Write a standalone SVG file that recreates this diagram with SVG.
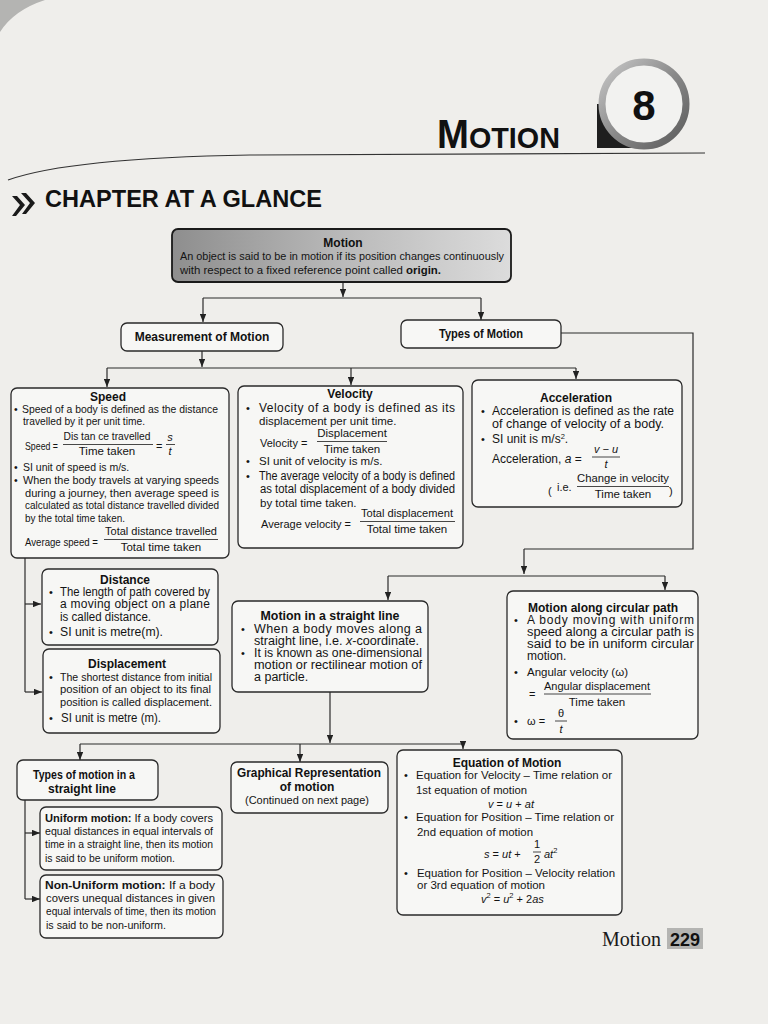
<svg xmlns="http://www.w3.org/2000/svg" width="768" height="1024" viewBox="0 0 768 1024">
<defs>
<style>
.box{fill:#f7f7f5;stroke:#2a2a2a;stroke-width:1.3}
.t{font-family:"Liberation Sans",Arial,sans-serif;font-size:11px;fill:#141414}
.h{font-family:"Liberation Sans",Arial,sans-serif;font-size:12px;font-weight:bold;fill:#111}
.c{text-anchor:middle}
.i{font-style:italic}
.s105{font-size:10.5px}
.s115{font-size:11.5px}
.s12{font-size:12px}
.s125{font-size:12.5px}
.ln{fill:none;stroke:#2a2a2a;stroke-width:1.2}
.bar{stroke:#1a1a1a;stroke-width:0.8}
</style>
<marker id="ah" viewBox="0 0 10 8" refX="10" refY="4" markerWidth="8" markerHeight="6.4" orient="auto" markerUnits="userSpaceOnUse">
<path d="M0,0 L10,4 L0,8 z" fill="#222"/>
</marker>
<linearGradient id="gm" x1="0" y1="0" x2="1" y2="0">
<stop offset="0" stop-color="#8e8e8e"/>
<stop offset="0.5" stop-color="#b9b9b9"/>
<stop offset="1" stop-color="#dcdcdc"/>
</linearGradient>
<linearGradient id="gr" x1="0" y1="0" x2="1" y2="1">
<stop offset="0" stop-color="#c8c8c8"/>
<stop offset="0.5" stop-color="#8a8a8a"/>
<stop offset="1" stop-color="#5a5a5a"/>
</linearGradient>
</defs>

<rect x="0" y="0" width="768" height="1024" fill="#efeeeb"/>
<path d="M0,0 L45,0 Q14,10 0,32 z" fill="#b4b4b2"/>

<!-- header -->
<g id="header">
<rect x="597" y="104" width="47" height="44" fill="#1e1e1e"/>
<circle cx="644" cy="104" r="42" fill="#f2f2f0" stroke="url(#gr)" stroke-width="7"/>
<text x="644" y="120" text-anchor="middle" font-family="Liberation Sans,Arial,sans-serif" font-weight="bold" font-size="42" fill="#111">8</text>
<text x="437" y="148" font-family="Liberation Sans,Arial,sans-serif" font-weight="bold" fill="#111" textLength="123" lengthAdjust="spacingAndGlyphs"><tspan font-size="40">M</tspan><tspan font-size="30">OTION</tspan></text>
<path d="M8,180 Q70,158 250,155 L705,153" fill="none" stroke="#333" stroke-width="1.2"/>
<path d="M12,196 L20,205 L12,216 L16,216 L25,205 L17,196 z M21,193 L30,203 L22,214 L26,214 L35,203 L26,193 z" fill="#1a1a1a"/>
<text x="45" y="207" font-family="Liberation Sans,Arial,sans-serif" font-weight="bold" font-size="24" fill="#111" textLength="277" lengthAdjust="spacingAndGlyphs">CHAPTER AT A GLANCE</text>
</g>

<!-- connectors -->
<g id="connectors" class="ln">
<line x1="343" y1="282" x2="343" y2="297" marker-end="url(#ah)"/>
<line x1="203" y1="298" x2="481" y2="298"/>
<line x1="203" y1="298" x2="203" y2="322" marker-end="url(#ah)"/>
<line x1="481" y1="298" x2="481" y2="320" marker-end="url(#ah)"/>
<polyline points="561,333 693,333 693,549 524,549"/>
<line x1="524" y1="549" x2="524" y2="574" marker-end="url(#ah)"/>
<line x1="388" y1="576" x2="665" y2="576"/>
<line x1="388" y1="576" x2="388" y2="600" marker-end="url(#ah)"/>
<line x1="665" y1="576" x2="665" y2="590" marker-end="url(#ah)"/>
<line x1="202" y1="351" x2="202" y2="367" marker-end="url(#ah)"/>
<line x1="107" y1="368" x2="576" y2="368"/>
<line x1="107" y1="368" x2="107" y2="387" marker-end="url(#ah)"/>
<line x1="351" y1="368" x2="351" y2="385" marker-end="url(#ah)"/>
<line x1="576" y1="368" x2="576" y2="379" marker-end="url(#ah)"/>
<line x1="25" y1="558" x2="25" y2="692"/>
<line x1="25" y1="604" x2="41" y2="604" marker-end="url(#ah)"/>
<line x1="25" y1="692" x2="42" y2="692" marker-end="url(#ah)"/>
<line x1="330" y1="692" x2="330" y2="743" marker-end="url(#ah)"/>
<line x1="80" y1="744" x2="463" y2="744"/>
<line x1="80" y1="744" x2="80" y2="760" marker-end="url(#ah)"/>
<line x1="300" y1="744" x2="300" y2="762" marker-end="url(#ah)"/>
<line x1="463" y1="744" x2="463" y2="749" marker-end="url(#ah)"/>
<line x1="25" y1="800" x2="25" y2="899"/>
<line x1="25" y1="833" x2="40" y2="833" marker-end="url(#ah)"/>
<line x1="25" y1="899" x2="40" y2="899" marker-end="url(#ah)"/>
</g>

<g id="motion">
<rect x="172" y="229" width="339" height="53" rx="6" fill="url(#gm)" stroke="#1a1a1a" stroke-width="1.8"/>
<text class="h c" x="343" y="247">Motion</text>
<text class="t s115" x="180" y="260" textLength="324" lengthAdjust="spacingAndGlyphs">An object is said to be in motion if its position changes continuously</text>
<text class="t s115" x="180" y="274" textLength="261" lengthAdjust="spacingAndGlyphs">with respect to a fixed reference point called <tspan font-weight="bold">origin.</tspan></text>
</g>

<g id="measurement">
<rect class="box" x="121" y="323" width="162" height="28" rx="6"/>
<text class="h c" x="202" y="341" font-size="12.5">Measurement of Motion</text>
</g>

<g id="types">
<rect class="box" x="401" y="320" width="160" height="28" rx="6"/>
<text class="h c" x="481" y="338" font-size="11.5" textLength="84" lengthAdjust="spacingAndGlyphs">Types of Motion</text>
</g>

<g id="speed">
<rect class="box" x="11" y="388" width="218" height="170" rx="6"/>
<text class="h c" x="108" y="401">Speed</text>
<text class="t s105" x="14" y="413">•</text>
<text class="t s105" x="22" y="413" textLength="196" lengthAdjust="spacingAndGlyphs">Speed of a body is defined as the distance</text>
<text class="t s105" x="23" y="425" textLength="122" lengthAdjust="spacingAndGlyphs">travelled by it per unit time.</text>
<text class="t s105" x="25" y="450" textLength="33" lengthAdjust="spacingAndGlyphs">Speed =</text>
<text class="t s115 c" x="107" y="440" textLength="87" lengthAdjust="spacingAndGlyphs">Dis tan ce travelled</text>
<line class="bar" x1="63" y1="444.5" x2="153" y2="444.5"/>
<text class="t s115 c" x="107" y="455">Time taken</text>
<text class="t" x="156" y="450">=</text>
<text class="t c i" x="170" y="441">s</text>
<line class="bar" x1="166" y1="444.5" x2="175" y2="444.5"/>
<text class="t c i" x="170" y="455">t</text>
<text class="t s105" x="14" y="471">•</text>
<text class="t s105" x="23" y="471">SI unit of speed is m/s.</text>
<text class="t s105" x="14" y="484">•</text>
<text class="t s105" x="23" y="484" textLength="196" lengthAdjust="spacingAndGlyphs">When the body travels at varying speeds</text>
<text class="t s105" x="25" y="497" textLength="194" lengthAdjust="spacingAndGlyphs">during a journey, then average speed is</text>
<text class="t s105" x="25" y="509" textLength="194" lengthAdjust="spacingAndGlyphs">calculated as total distance travelled divided</text>
<text class="t s105" x="25" y="522" textLength="100" lengthAdjust="spacingAndGlyphs">by the total time taken.</text>
<text class="t s105" x="25" y="546" textLength="73" lengthAdjust="spacingAndGlyphs">Average speed =</text>
<text class="t s115 c" x="161" y="535" textLength="112" lengthAdjust="spacingAndGlyphs">Total distance travelled</text>
<line class="bar" x1="104" y1="539.5" x2="218" y2="539.5"/>
<text class="t s115 c" x="161" y="551">Total time taken</text>
</g>

<g id="velocity">
<rect class="box" x="238" y="386" width="225" height="162" rx="6"/>
<text class="h c" x="350" y="398">Velocity</text>
<text class="t" x="246" y="412">•</text>
<text class="t s12" x="259" y="412" textLength="196" lengthAdjust="spacing">Velocity of a body is defined as its</text>
<text class="t s115" x="259" y="425">displacement per unit time.</text>
<text class="t" x="260" y="447">Velocity =</text>
<text class="t s115 c" x="352" y="437">Displacement</text>
<line class="bar" x1="317" y1="441.5" x2="387" y2="441.5"/>
<text class="t s115 c" x="352" y="453">Time taken</text>
<text class="t" x="246" y="465">•</text>
<text class="t s115" x="259" y="465">SI unit of velocity is m/s.</text>
<text class="t" x="246" y="480">•</text>
<text class="t s12" x="259" y="480" textLength="196" lengthAdjust="spacingAndGlyphs">The average velocity of a body is defined</text>
<text class="t s12" x="260" y="493" textLength="195" lengthAdjust="spacingAndGlyphs">as total displacement of a body divided</text>
<text class="t s115" x="260" y="507">by total time taken.</text>
<text class="t" x="261" y="528">Average velocity =</text>
<text class="t s115 c" x="407" y="517" textLength="92" lengthAdjust="spacingAndGlyphs">Total displacement</text>
<line class="bar" x1="360" y1="521.5" x2="455" y2="521.5"/>
<text class="t s115 c" x="407" y="533">Total time taken</text>
</g>

<g id="acceleration">
<rect class="box" x="472" y="380" width="210" height="127" rx="6"/>
<text class="h c" x="576" y="402">Acceleration</text>
<text class="t" x="481" y="415">•</text>
<text class="t s12" x="492" y="415" textLength="182" lengthAdjust="spacingAndGlyphs">Acceleration is defined as the rate</text>
<text class="t s12" x="492" y="428" textLength="172" lengthAdjust="spacingAndGlyphs">of change of velocity of a body.</text>
<text class="t" x="481" y="443">•</text>
<text class="t s12" x="492" y="443">SI unit is m/s<tspan font-size="7.5" dy="-4">2</tspan><tspan dy="4">.</tspan></text>
<text class="t s12" x="492" y="463">Acceleration, <tspan class="i">a</tspan> =</text>
<text class="t c i" x="606" y="453">v − u</text>
<line class="bar" x1="592" y1="457" x2="620" y2="457"/>
<text class="t c i" x="606" y="468">t</text>
<text class="t" x="548" y="495" font-size="22" font-weight="lighter">(</text>
<text class="t" x="557" y="491">i.e.</text>
<text class="t s115 c" x="623" y="482" textLength="92" lengthAdjust="spacingAndGlyphs">Change in velocity</text>
<line class="bar" x1="577" y1="486.5" x2="669" y2="486.5"/>
<text class="t s115 c" x="623" y="498">Time taken</text>
<text class="t" x="669" y="495" font-size="22" font-weight="lighter">)</text>
</g>

<g id="distance">
<rect class="box" x="42" y="569" width="176" height="76" rx="6"/>
<text class="h c" x="125" y="584">Distance</text>
<text class="t" x="49" y="596">•</text>
<text class="t s12" x="60" y="596" textLength="150" lengthAdjust="spacingAndGlyphs">The length of path covered by</text>
<text class="t s12" x="60" y="608" textLength="150" lengthAdjust="spacing">a moving object on a plane</text>
<text class="t s12" x="60" y="621" textLength="91" lengthAdjust="spacingAndGlyphs">is called distance.</text>
<text class="t" x="49" y="636">•</text>
<text class="t s12" x="60" y="636" textLength="103" lengthAdjust="spacingAndGlyphs">SI unit is metre(m).</text>
</g>

<g id="displacement">
<rect class="box" x="43" y="649" width="177" height="84" rx="6"/>
<text class="h c" x="127" y="668">Displacement</text>
<text class="t" x="49" y="681">•</text>
<text class="t s115" x="60" y="681" textLength="152" lengthAdjust="spacingAndGlyphs">The shortest distance from initial</text>
<text class="t s115" x="60" y="693" textLength="151" lengthAdjust="spacingAndGlyphs">position of an object to its final</text>
<text class="t s115" x="60" y="706" textLength="152" lengthAdjust="spacingAndGlyphs">position is called displacement.</text>
<text class="t" x="49" y="722">•</text>
<text class="t s12" x="61" y="722" textLength="100" lengthAdjust="spacingAndGlyphs">SI unit is metre (m).</text>
</g>

<g id="straight">
<rect class="box" x="232" y="601" width="196" height="91" rx="6"/>
<text class="h c" x="330" y="620" font-size="12.5" textLength="139" lengthAdjust="spacingAndGlyphs">Motion in a straight line</text>
<text class="t" x="241" y="633">•</text>
<text class="t s125" x="254" y="633" textLength="168" lengthAdjust="spacing">When a body moves along a</text>
<text class="t s125" x="254" y="645" textLength="165" lengthAdjust="spacingAndGlyphs">straight line, i.e. <tspan class="i">x</tspan>-coordinate.</text>
<text class="t" x="241" y="657">•</text>
<text class="t s125" x="254" y="657" textLength="168" lengthAdjust="spacingAndGlyphs">It is known as one-dimensional</text>
<text class="t s125" x="254" y="669" textLength="168" lengthAdjust="spacingAndGlyphs">motion or rectilinear motion of</text>
<text class="t s125" x="254" y="681">a particle.</text>
</g>

<g id="circular">
<rect class="box" x="507" y="591" width="191" height="148" rx="6"/>
<text class="h c" x="603" y="612" font-size="11">Motion along circular path</text>
<text class="t" x="514" y="624">•</text>
<text class="t s12" x="527" y="624" textLength="167" lengthAdjust="spacing">A body moving with uniform</text>
<text class="t s12" x="527" y="636" textLength="167" lengthAdjust="spacingAndGlyphs">speed along a circular path is</text>
<text class="t s12" x="527" y="648" textLength="167" lengthAdjust="spacingAndGlyphs">said to be in uniform circular</text>
<text class="t s12" x="527" y="660">motion.</text>
<text class="t" x="514" y="676">•</text>
<text class="t s115" x="527" y="676">Angular velocity (ω)</text>
<text class="t" x="529" y="698">=</text>
<text class="t s115 c" x="597" y="690" textLength="106" lengthAdjust="spacingAndGlyphs">Angular displacement</text>
<line class="bar" x1="544" y1="694" x2="651" y2="694"/>
<text class="t s115 c" x="597" y="706">Time taken</text>
<text class="t" x="514" y="725">•</text>
<text class="t" x="527" y="725">ω =</text>
<text class="t c" x="561" y="717">θ</text>
<line class="bar" x1="555" y1="721" x2="567" y2="721"/>
<text class="t c i" x="561" y="733">t</text>
</g>

<g id="types-straight">
<rect class="box" x="17" y="760" width="141" height="40" rx="6"/>
<text class="h c" x="84" y="779" font-size="11" textLength="102" lengthAdjust="spacingAndGlyphs">Types of motion in a</text>
<text class="h c" x="82" y="793" font-size="11">straight line</text>
</g>

<g id="uniform">
<rect class="box" x="40" y="807" width="182" height="63" rx="6"/>
<text class="t" x="45" y="822" textLength="168" lengthAdjust="spacingAndGlyphs"><tspan font-weight="bold">Uniform motion:</tspan> If a body covers</text>
<text class="t" x="45" y="835" textLength="168" lengthAdjust="spacingAndGlyphs">equal distances in equal intervals of</text>
<text class="t" x="45" y="848" textLength="168" lengthAdjust="spacingAndGlyphs">time in a straight line, then its motion</text>
<text class="t" x="45" y="862" textLength="130" lengthAdjust="spacingAndGlyphs">is said to be uniform motion.</text>
</g>

<g id="nonuniform">
<rect class="box" x="40" y="875" width="183" height="63" rx="6"/>
<text class="t" x="45" y="889" textLength="170" lengthAdjust="spacingAndGlyphs"><tspan font-weight="bold">Non-Uniform motion:</tspan> If a body</text>
<text class="t" x="46" y="902" textLength="169" lengthAdjust="spacingAndGlyphs">covers unequal distances in given</text>
<text class="t" x="46" y="915" textLength="170" lengthAdjust="spacingAndGlyphs">equal intervals of time, then its motion</text>
<text class="t" x="46" y="929" textLength="120" lengthAdjust="spacingAndGlyphs">is said to be non-uniform.</text>
</g>

<g id="graphical">
<rect class="box" x="231" y="762" width="157" height="51" rx="6"/>
<text class="h c" x="309" y="777" font-size="12" textLength="144" lengthAdjust="spacingAndGlyphs">Graphical Representation</text>
<text class="h c" x="307" y="791" font-size="12">of motion</text>
<text class="t c" x="307" y="804" textLength="124" lengthAdjust="spacingAndGlyphs">(Continued on next page)</text>
</g>

<g id="equation">
<rect class="box" x="397" y="750" width="225" height="165" rx="6"/>
<text class="h c" x="507" y="767" font-size="11.5">Equation of Motion</text>
<text class="t" x="404" y="779">•</text>
<text class="t s115" x="416" y="779" textLength="196" lengthAdjust="spacingAndGlyphs">Equation for Velocity – Time relation or</text>
<text class="t s115" x="416" y="794" textLength="111" lengthAdjust="spacingAndGlyphs">1st equation of motion</text>
<text class="t c i" x="511" y="808">v <tspan font-style="normal">=</tspan> u <tspan font-style="normal">+</tspan> at</text>
<text class="t" x="404" y="821">•</text>
<text class="t s115" x="416" y="821" textLength="198" lengthAdjust="spacingAndGlyphs">Equation for Position – Time relation or</text>
<text class="t s115" x="417" y="836" textLength="116" lengthAdjust="spacingAndGlyphs">2nd equation of motion</text>
<text class="t i" x="484" y="858">s <tspan font-style="normal">=</tspan> ut <tspan font-style="normal">+</tspan></text>
<text class="t c" x="537" y="848">1</text>
<line class="bar" x1="533" y1="852" x2="541" y2="852"/>
<text class="t c" x="537" y="863">2</text>
<text class="t i" x="544" y="858">at<tspan font-size="7.5" dy="-5" font-style="normal">2</tspan></text>
<text class="t" x="404" y="877">•</text>
<text class="t s115" x="417" y="877" textLength="198" lengthAdjust="spacingAndGlyphs">Equation for Position – Velocity relation</text>
<text class="t s115" x="417" y="889" textLength="128" lengthAdjust="spacingAndGlyphs">or 3rd equation of motion</text>
<text class="t i" x="481" y="903">v<tspan font-size="7.5" dy="-5" font-style="normal">2</tspan><tspan dy="5" font-style="normal"> = </tspan>u<tspan font-size="7.5" dy="-5" font-style="normal">2</tspan><tspan dy="5" font-style="normal"> + 2</tspan>as</text>
</g>

<g id="footer">
<text x="602" y="946" font-family="Liberation Serif,Times New Roman,serif" font-size="20" fill="#1a1a1a">Motion</text>
<rect x="667" y="928" width="36" height="21" fill="#b4b4b2"/>
<text x="685" y="946" text-anchor="middle" font-family="Liberation Sans,Arial,sans-serif" font-weight="bold" font-size="18" fill="#111">229</text>
</g>
</svg>
